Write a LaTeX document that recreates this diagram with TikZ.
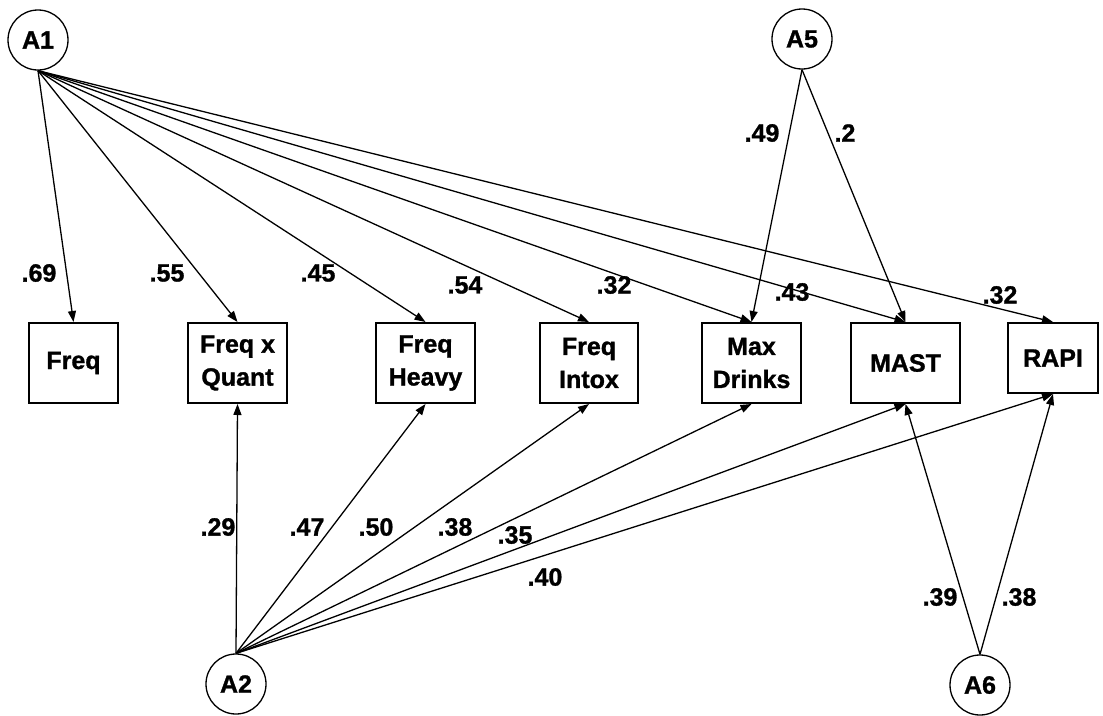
\documentclass[tikz,border=0pt]{standalone}
\usepackage{fontspec}
\setmainfont{Liberation Sans}[BoldFeatures={FakeBold=1.2}]
\usetikzlibrary{arrows.meta}
\tikzset{
  latent/.style={circle, draw, line width=1.3pt, minimum size=60pt, inner sep=0pt,
    font=\fontsize{25}{30}\selectfont\bfseries},
  measure/.style={draw, line width=2pt, inner sep=0pt, minimum height=80pt, align=center,
    font=\fontsize{25}{33}\selectfont\bfseries},
  path/.style={line width=1.3pt, -{Triangle[length=11pt,width=8pt]}},
  coef/.style={font=\fontsize{25}{30}\selectfont\bfseries, inner sep=0pt}
}
\begin{document}
\begin{tikzpicture}[x=1pt, y=-1pt]
\useasboundingbox (0,0) rectangle (1103,715);

% latent factors
\node[latent] (A1) at (38,40) {A1};
\node[latent] (A5) at (802,39) {A5};
\node[latent] (A2) at (236,684) {A2};
\node[latent] (A6) at (980,685) {A6};

% observed measures
\node[measure, minimum width=89pt]  (freq) at (73.5,363) {Freq};
\node[measure, minimum width=99pt]  (fq)   at (237.5,363) {Freq x\\Quant};
\node[measure, minimum width=99pt]  (fh)   at (425.5,363) {Freq\\Heavy};
\node[measure, minimum width=98pt]  (fi)   at (589,363) {Freq\\Intox};
\node[measure, minimum width=99pt]  (md)   at (751.5,363) {Max\\Drinks};
\node[measure, minimum width=109pt] (mast) at (905.5,363) {MAST};
\node[measure, minimum width=90pt, minimum height=70pt] (rapi) at (1053,358) {RAPI};

% loadings from A1
\foreach \t in {freq,fq,fh,fi,md,mast,rapi}
  \draw[path] (A1.south) -- (\t.north);
% loadings from A5
\foreach \t in {md,mast}
  \draw[path] (A5.south) -- (\t.north);
% loadings from A2
\foreach \t in {fq,fh,fi,md,mast,rapi}
  \draw[path] (A2.north) -- (\t.south);
% loadings from A6
\foreach \t in {mast,rapi}
  \draw[path] (A6.north) -- (\t.south);

% coefficients
\node[coef] (c1) at (39,273) {.69};
\node[coef] (c2) at (167,273) {.55};
\node[coef] (c3) at (318,273) {.45};
\node[coef] (c4) at (465,285) {.54};
\node[coef] (c5) at (614,285) {.32};
\node[coef] (c6) at (792,292) {.43};
\node[coef] (c7) at (1000,295) {.32};
\node[coef] (c8) at (762,133) {.49};
\node[coef] (c9) at (845,133) {.2};
\node[coef] (c10) at (218,527) {.29};
\node[coef] (c11) at (307,527) {.47};
\node[coef] (c12) at (376,527) {.50};
\node[coef] (c13) at (455,527) {.38};
\node[coef] (c14) at (515,535) {.35};
\node[coef] (c15) at (545,577) {.40};
\node[coef] (c16) at (940,597) {.39};
\node[coef] (c17) at (1019,597) {.38};
\end{tikzpicture}
\end{document}
